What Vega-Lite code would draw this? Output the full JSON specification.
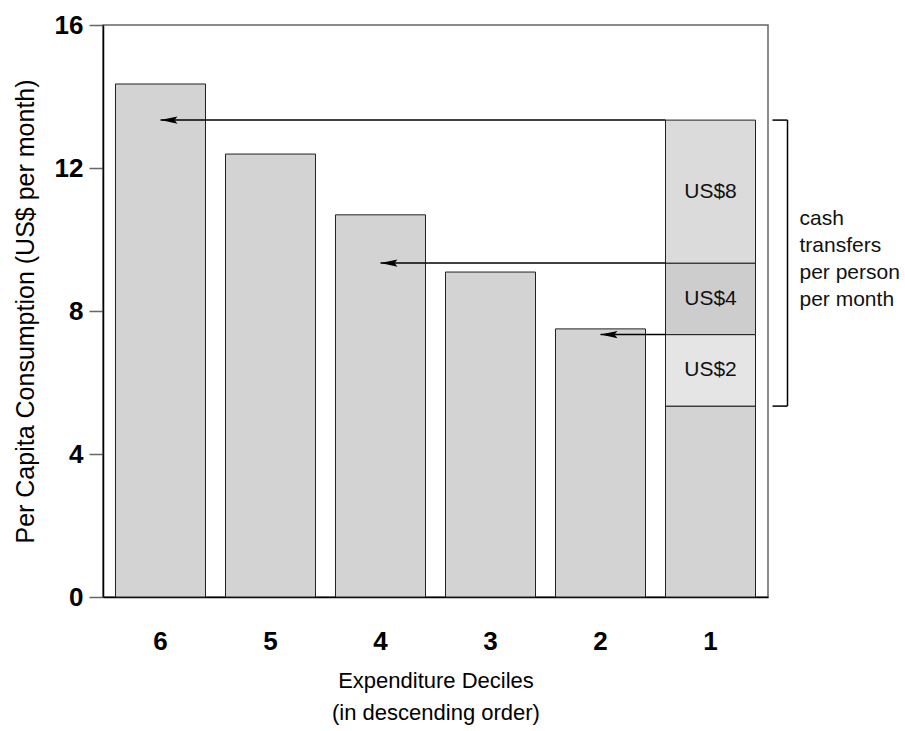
{
  "$schema": "https://vega.github.io/schema/vega-lite/v6.json",
  "width": 665,
  "height": 572,
  "autosize": "none",
  "padding": {"left": 103, "top": 25, "right": 137, "bottom": 134},
  "background": "white",
  "config": {
    "font": "Liberation Sans",
    "view": {"stroke": "#666", "strokeWidth": 1.5},
    "axis": {
      "grid": false,
      "domainColor": "#000",
      "domainWidth": 1.5,
      "labelFont": "Liberation Sans",
      "labelFontSize": 26,
      "labelFontWeight": "bold",
      "labelColor": "#000",
      "tickColor": "#666",
      "tickWidth": 1.5,
      "titleFont": "Liberation Sans",
      "titleFontSize": 22,
      "titleFontWeight": "normal",
      "titleColor": "#000"
    },
    "axisX": {"ticks": false, "labelAngle": 0, "labelPadding": 31, "titleLineHeight": 32, "titlePadding": 16},
    "axisY": {"tickSize": 14, "labelPadding": 6, "titlePadding": 16, "titleFontSize": 25}
  },
  "datasets": {
    "bars": [
      {"decile": "6", "part": "consumption", "lo": 0, "hi": 14.35},
      {"decile": "5", "part": "consumption", "lo": 0, "hi": 12.39},
      {"decile": "4", "part": "consumption", "lo": 0, "hi": 10.69},
      {"decile": "3", "part": "consumption", "lo": 0, "hi": 9.09},
      {"decile": "2", "part": "consumption", "lo": 0, "hi": 7.5},
      {"decile": "1", "part": "consumption", "lo": 0, "hi": 5.34},
      {"decile": "1", "part": "US$2", "lo": 5.34, "hi": 7.34},
      {"decile": "1", "part": "US$4", "lo": 7.34, "hi": 9.34},
      {"decile": "1", "part": "US$8", "lo": 9.34, "hi": 13.34}
    ],
    "arrows": [
      {"from": "1", "to": "6", "value": 13.34},
      {"from": "1", "to": "4", "value": 9.34},
      {"from": "1", "to": "2", "value": 7.34}
    ],
    "bracket": [
      {"decile": "1", "lo": 5.34, "hi": 13.34, "label": ["cash", "transfers", "per person", "per month"]}
    ]
  },
  "layer": [
    {
      "data": {"name": "bars"},
      "mark": {"type": "bar", "stroke": "#222", "strokeWidth": 1},
      "encoding": {
        "x": {
          "field": "decile", "type": "nominal",
          "scale": {"domain": ["6", "5", "4", "3", "2", "1"], "paddingInner": 0.1818, "paddingOuter": 0.1136},
          "title": ["Expenditure Deciles", "(in descending order)"]
        },
        "y": {
          "field": "hi", "type": "quantitative",
          "scale": {"domain": [0, 16], "nice": false},
          "axis": {"values": [0, 4, 8, 12, 16]},
          "title": "Per Capita Consumption (US$ per month)"
        },
        "y2": {"field": "lo"},
        "fill": {
          "field": "part", "type": "nominal",
          "scale": {"domain": ["consumption", "US$2", "US$4", "US$8"], "range": ["#d3d3d3", "#e5e5e5", "#cdcdcd", "#dbdbdb"]},
          "legend": null
        }
      }
    },
    {
      "data": {"name": "bars"},
      "transform": [
        {"filter": "datum.part !== 'consumption'"},
        {"calculate": "(datum.lo + datum.hi) / 2", "as": "mid"}
      ],
      "mark": {"type": "text", "fontSize": 21, "color": "#111", "baseline": "middle", "align": "center"},
      "encoding": {
        "x": {"field": "decile", "type": "nominal", "title": ["Expenditure Deciles", "(in descending order)"]},
        "y": {"field": "mid", "type": "quantitative", "axis": {"values": [0, 4, 8, 12, 16]}, "title": "Per Capita Consumption (US$ per month)"},
        "text": {"field": "part"}
      }
    },
    {
      "data": {"name": "arrows"},
      "mark": {"type": "rule", "color": "#000", "strokeWidth": 1.5},
      "encoding": {
        "x": {"field": "to", "type": "nominal", "bandPosition": 0.5, "title": ["Expenditure Deciles", "(in descending order)"]},
        "x2": {"field": "from", "bandPosition": 0},
        "y": {"field": "value", "type": "quantitative", "axis": {"values": [0, 4, 8, 12, 16]}, "title": "Per Capita Consumption (US$ per month)"}
      }
    },
    {
      "data": {"name": "arrows"},
      "mark": {"type": "point", "shape": "M0,0 L2,-0.42 L1.65,0 L2,0.42 Z", "filled": true, "color": "#000", "opacity": 1, "size": 289},
      "encoding": {
        "x": {"field": "to", "type": "nominal", "title": ["Expenditure Deciles", "(in descending order)"]},
        "y": {"field": "value", "type": "quantitative", "axis": {"values": [0, 4, 8, 12, 16]}, "title": "Per Capita Consumption (US$ per month)"}
      }
    },
    {
      "data": {"name": "bracket"},
      "mark": {"type": "rule", "color": "#000", "strokeWidth": 1.5, "xOffset": 32},
      "encoding": {
        "x": {"field": "decile", "type": "nominal", "bandPosition": 1, "title": ["Expenditure Deciles", "(in descending order)"]},
        "y": {"field": "lo", "type": "quantitative", "axis": {"values": [0, 4, 8, 12, 16]}, "title": "Per Capita Consumption (US$ per month)"},
        "y2": {"field": "hi"}
      }
    },
    {
      "data": {"name": "bracket"},
      "mark": {"type": "rule", "color": "#000", "strokeWidth": 1.5, "xOffset": 17, "x2Offset": 32},
      "encoding": {
        "x": {"field": "decile", "type": "nominal", "bandPosition": 1, "title": ["Expenditure Deciles", "(in descending order)"]},
        "x2": {"field": "decile", "bandPosition": 1},
        "y": {"field": "hi", "type": "quantitative", "axis": {"values": [0, 4, 8, 12, 16]}, "title": "Per Capita Consumption (US$ per month)"}
      }
    },
    {
      "data": {"name": "bracket"},
      "mark": {"type": "rule", "color": "#000", "strokeWidth": 1.5, "xOffset": 17, "x2Offset": 32},
      "encoding": {
        "x": {"field": "decile", "type": "nominal", "bandPosition": 1, "title": ["Expenditure Deciles", "(in descending order)"]},
        "x2": {"field": "decile", "bandPosition": 1},
        "y": {"field": "lo", "type": "quantitative", "axis": {"values": [0, 4, 8, 12, 16]}, "title": "Per Capita Consumption (US$ per month)"}
      }
    },
    {
      "data": {"name": "bracket"},
      "transform": [{"calculate": "(datum.lo + datum.hi) / 2", "as": "mid"}],
      "mark": {"type": "text", "fontSize": 21, "lineHeight": 27, "align": "left", "baseline": "middle", "xOffset": 44, "dy": -44, "color": "#111"},
      "encoding": {
        "x": {"field": "decile", "type": "nominal", "bandPosition": 1, "title": ["Expenditure Deciles", "(in descending order)"]},
        "y": {"field": "mid", "type": "quantitative", "axis": {"values": [0, 4, 8, 12, 16]}, "title": "Per Capita Consumption (US$ per month)"},
        "text": {"field": "label"}
      }
    }
  ]
}
